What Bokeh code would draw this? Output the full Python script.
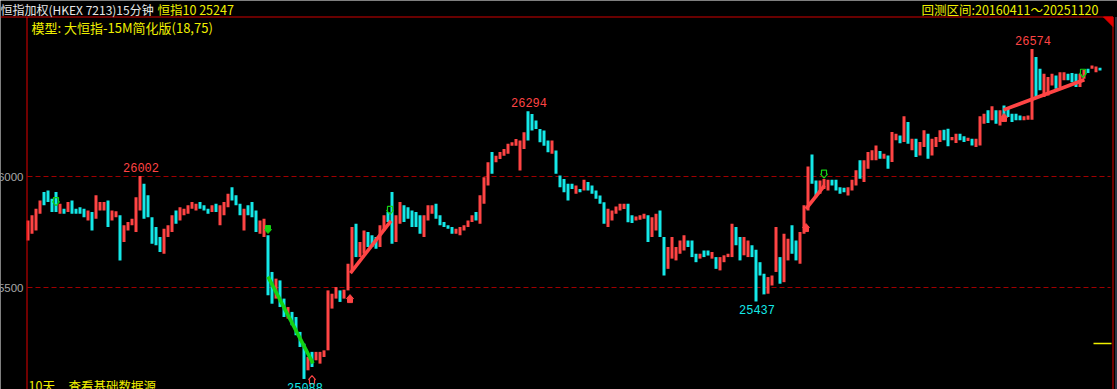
from bokeh.plotting import figure
from bokeh.models import Range1d, ColumnDataSource
from bokeh.embed import file_html
from bokeh.resources import INLINE
from bokeh.core.properties import value

# ---------------- data (15-minute bars, merged in pairs) ----------------
highs = [
    25802, 25825, 25855, 25892, 25930, 25937, 25900, 25930, 25877, 25855,
    25885, 25892, 25855, 25862, 25855, 25847, 25840, 25915, 25885, 25885,
    25892, 25847, 25844, 25825, 25780, 25795, 25810, 25907, 26002, 25967,
    25915, 25817, 25772, 25727, 25765, 25780, 25825, 25847, 25862, 25855,
    25870, 25885, 25877, 25885, 25870, 25855, 25870, 25877, 25870, 25885,
    25922, 25952, 25915, 25877, 25855, 25870, 25885, 25847, 25802, 25810,
    25735, 25570, 25540, 25532, 25450, 25412, 25390, 25367, 25300, 25247,
    25187, 25210, 25210, 25210, 25217, 25487, 25472, 25502, 25487, 25490,
    25607, 25772, 25787, 25705, 25757, 25750, 25735, 25727, 25780, 25825,
    25840, 25930, 25825, 25885, 25870, 25862, 25847, 25840, 25825, 25825,
    25870, 25870, 25877, 25825, 25795, 25780, 25772, 25765, 25772, 25780,
    25802, 25825, 25840, 25915, 25997, 26064, 26110, 26094, 26110, 26124,
    26147, 26154, 26169, 26162, 26199, 26294, 26282, 26252, 26214, 26207,
    26162, 26162, 26117, 26004, 25989, 25967, 25967, 25959, 25944, 25985,
    25975, 25959, 25937, 25914, 25884, 25855, 25847, 25865, 25877, 25877,
    25877, 25825, 25820, 25825, 25832, 25825, 25817, 25832, 25847, 25727,
    25682, 25727, 25682, 25712, 25735, 25712, 25712, 25652, 25652, 25667,
    25667, 25660, 25637, 25637, 25645, 25652, 25787, 25772, 25727, 25727,
    25712, 25690, 25670, 25614, 25562, 25547, 25554, 25772, 25637, 25742,
    25720, 25780, 25712, 25750, 25870, 26045, 26099, 25982, 25982, 25989,
    25985, 25985, 25985, 25952, 25949, 25952, 25985, 26028, 26073, 26073,
    26110, 26118, 26140, 26115, 26103, 26095, 26200, 26193, 26185, 26271,
    26245, 26170, 26170, 26155, 26208, 26193, 26170, 26178, 26208, 26211,
    26215, 26178, 26193, 26193, 26181, 26175, 26170, 26170, 26271, 26283,
    26298, 26316, 26298, 26298, 26320, 26305, 26283, 26283, 26275, 26271,
    26275, 26574, 26538, 26485, 26463, 26448, 26463, 26455, 26470, 26470,
    26463, 26466, 26463, 26463, 26481, 26485, 26500, 26496, 26490,
]
lows = [
    25712, 25742, 25757, 25832, 25870, 25885, 25840, 25840, 25832, 25832,
    25840, 25832, 25832, 25832, 25817, 25802, 25757, 25810, 25847, 25847,
    25772, 25802, 25817, 25622, 25705, 25757, 25780, 25750, 25847, 25810,
    25817, 25697, 25690, 25660, 25652, 25727, 25750, 25787, 25802, 25825,
    25832, 25855, 25847, 25855, 25847, 25832, 25840, 25840, 25780, 25825,
    25862, 25892, 25870, 25825, 25757, 25825, 25817, 25750, 25742, 25727,
    25465, 25427, 25450, 25412, 25367, 25360, 25330, 25285, 25232, 25088,
    25127, 25142, 25172, 25157, 25187, 25217, 25405, 25450, 25435, 25450,
    25487, 25577, 25637, 25637, 25652, 25682, 25682, 25675, 25682, 25757,
    25795, 25697, 25705, 25787, 25795, 25810, 25772, 25772, 25742, 25727,
    25802, 25832, 25810, 25780, 25772, 25765, 25742, 25742, 25735, 25757,
    25772, 25795, 25802, 25787, 25877, 25959, 26012, 26064, 26079, 26094,
    26102, 26139, 26139, 26027, 26124, 26162, 26207, 26214, 26154, 26139,
    26109, 26102, 26012, 25952, 25929, 25892, 25944, 25922, 25929, 25937,
    25937, 25922, 25900, 25877, 25787, 25772, 25802, 25832, 25847, 25854,
    25794, 25790, 25802, 25805, 25810, 25705, 25727, 25757, 25727, 25554,
    25584, 25630, 25622, 25652, 25667, 25682, 25637, 25614, 25630, 25637,
    25644, 25630, 25584, 25577, 25614, 25637, 25637, 25690, 25622, 25645,
    25637, 25637, 25437, 25554, 25469, 25472, 25509, 25570, 25517, 25524,
    25622, 25652, 25622, 25607, 25742, 25847, 25967, 25907, 25922, 25944,
    25937, 25959, 25937, 25922, 25929, 25914, 25937, 25959, 25990, 25975,
    26035, 26073, 26073, 26080, 26080, 26035, 26065, 26163, 26150, 26155,
    26148, 26118, 26088, 26095, 26133, 26080, 26095, 26133, 26155, 26163,
    26136, 26163, 26151, 26163, 26155, 26160, 26140, 26133, 26140, 26238,
    26241, 26253, 26238, 26230, 26260, 26268, 26245, 26253, 26253, 26253,
    26256, 26256, 26358, 26388, 26358, 26365, 26410, 26395, 26403, 26433,
    26433, 26425, 26403, 26403, 26440, 26466, 26485, 26470, 26478,
]
direction = list(
    "RRRRCCCCRC" "RCCCCRCRRR" "CRRCRRRRRC" "CCCCRRRCRR" "RRRCCCRCRR"
    "RCCCRCCCRR" "CCRCCRCCCC" "RCRRRRRRCR" "RRCRRCCCRR" "CCRRCCCCCR"
    "RRCCCCCRRR" "RRCRRRCRRR" "RRRRRCCCCC" "CRCCCCCRCR" "CCCCCRRRRR"
    "CCRRRCRRCC" "RRRRRCCCRC" "CRCRRRRCCR" "RCCCCRRRCR" "RCCRRRCCRR"
    "RCCCCRRRCR" "RRRCRCRRCR" "CRCRRCRRRC" "CRRCCRCRRR" "CRCRCCCCCR"
    "RRCCRRRCRR" "CCCRRCRRC"
)

# price levels (dashed reference lines and axis labels)
level_prices = [26000, 25500]

# marked highs / lows (bar index)
peak_idx = [28, 125, 251]
trough_idx = [69, 182]

# trade signals: bar index, price, kind
sig_idx = [7, 60, 71, 80.5, 90.5, 194.5, 199, 244, 263.75]
sig_price = [25887, 25761, 25085, 25450, 25847, 25770, 26011, 26266, 26465]
sig_kind = ["long_exit", "short_entry", "short_exit", "long_entry", "long_exit",
            "long_entry", "long_exit", "long_entry", "long_exit"]

# trend lines: start idx/price, end idx/price, side
trend_i0 = [60, 80.6, 194.5, 243.9]
trend_p0 = [25549, 25565, 25854, 26300]
trend_i1 = [71.25, 90.75, 199.1, 264.1]
trend_p1 = [25158, 25800, 25959, 26436]
trend_side = ["short", "long", "long", "long"]

title_main = "恒指加权(HKEX 7213)15分钟"
title_quote = "恒指10 25247"
title_range = "回测区间:20160411～20251120"
model_text = "模型: 大恒指-15M简化版(18,75)"
footer_days = "10天"
footer_link = "查看基础数据源"

# ---------------- layout helpers ----------------
W, H = 1117, 389
X0, XSTEP = 27.5, 4.0
YREF_PX, YREF, PXPT = 176.0, 26000.0, 0.222


def dx(px):
    return (px - X0) / XSTEP


def dy(py):
    return YREF + (YREF_PX - py) / PXPT


def py_of(price):
    return YREF_PX - (price - YREF) * PXPT


RED = "#ff4444"
CYAN = "#14e8e8"
GREEN = "#14d214"
YELLOW = "#f0f000"
FRAME_RED = "#d00000"
CJK = "Noto Sans CJK SC"
MONO = "Liberation Mono"

p = figure(width=W, height=H, x_range=Range1d(dx(0), dx(W)), y_range=Range1d(dy(H), dy(0)),
           x_axis_type=None, y_axis_type=None, output_backend="svg", toolbar_location=None,
           min_border=0, background_fill_color="#000000", border_fill_color="#000000",
           outline_line_color=None)

# dashed reference levels
for lv in level_prices:
    p.segment(x0=[dx(27)], y0=[lv], x1=[dx(1110)], y1=[lv], line_color="#a00000",
              line_width=1, line_dash="5 3")

# bars
idx = list(range(len(highs)))
cmap = {"R": RED, "C": CYAN}
src = ColumnDataSource(dict(x=idx, top=highs, bottom=lows, color=[cmap[d] for d in direction]))
p.vbar(x="x", width=0.75, top="top", bottom="bottom", fill_color="color", line_color=None, source=src)

# trend lines
for a, pa, b, pb, s in zip(trend_i0, trend_p0, trend_i1, trend_p1, trend_side):
    p.line(x=[a, b], y=[pa, pb], line_color=GREEN if s == "short" else RED, line_width=3.6)

# signal arrows
up_shape = [(-2.5, 4), (2.5, 4), (2.5, 0), (3.5, 0), (0, -4), (-3.5, 0), (-2.5, 0)]
for i, pr, k in zip(sig_idx, sig_price, sig_kind):
    up = k in ("short_exit", "long_entry")
    shape = up_shape if up else [(ox, -oy) for ox, oy in up_shape]
    xs = [i + ox / XSTEP for ox, oy in shape]
    ys = [pr - oy / PXPT for ox, oy in shape]
    col = RED if up else GREEN
    if k.endswith("entry"):
        p.patch(xs, ys, fill_color=col, line_color=col, line_width=1)
    else:
        p.patch(xs, ys, fill_alpha=0, line_color=col, line_width=1.2)

# high / low labels
for i in peak_idx:
    p.text(x=[i + 0.25], y=[dy(py_of(highs[i]) - 8.5)], text=[str(highs[i])], text_color=RED,
           text_font=value(MONO), text_font_size="12px", text_align="center", text_baseline="middle")
for i in trough_idx:
    p.text(x=[i + 0.25], y=[dy(py_of(lows[i]) + 8.5)], text=[str(lows[i])], text_color=CYAN,
           text_font=value(MONO), text_font_size="12px", text_align="center", text_baseline="middle")

# level labels (clipped at the left edge, as in the original)
for lv in level_prices:
    p.text(x=[dx(23)], y=[lv], text=[str(lv)], text_color="#a8a8a8", text_font=value("Liberation Sans"),
           text_font_size="11.5px", text_align="right", text_baseline="middle")

# frame lines
p.segment(x0=[dx(0)], y0=[dy(16.5)], x1=[dx(1112.5)], y1=[dy(16.5)], line_color=FRAME_RED, line_width=1)
p.segment(x0=[dx(26.5)], y0=[dy(16.5)], x1=[dx(26.5)], y1=[dy(H)], line_color="#e00000", line_width=1)
p.segment(x0=[dx(1112.5)], y0=[dy(16.5)], x1=[dx(1112.5)], y1=[dy(H)], line_color="#e00000", line_width=1)
p.segment(x0=[dx(1115.5)], y0=[dy(16.5)], x1=[dx(1115.5)], y1=[dy(H)], line_color="#5a6a8a", line_width=1)
p.patch([dx(1103), dx(1112.5), dx(1112.5)], [dy(16.5), dy(16.5), dy(26)], fill_color="#e00000",
        line_color="#e00000")
p.segment(x0=[dx(1093)], y0=[dy(343)], x1=[dx(1111)], y1=[dy(343)], line_color=YELLOW, line_width=1.5)


# texts
def txt(px, py, s, color, align="left", baseline="middle", size="12px", font=CJK):
    p.text(x=[dx(px)], y=[dy(py)], text=[s], text_color=color, text_font=value(font),
           text_font_size=size, text_align=align, text_baseline=baseline)


txt(0, 8.5, title_main, "#e8e8e8", size="12px")
txt(157, 8.5, title_quote, YELLOW, size="12.5px")
txt(1098, 8.5, title_range, YELLOW, align="right", size="12.5px")
txt(31, 26.5, model_text, YELLOW, size="13px")
txt(28, 385, footer_days, YELLOW, size="12.5px")
txt(68, 385, footer_link, YELLOW, size="12.5px")

open("out.html", "w").write(file_html(p, INLINE))
